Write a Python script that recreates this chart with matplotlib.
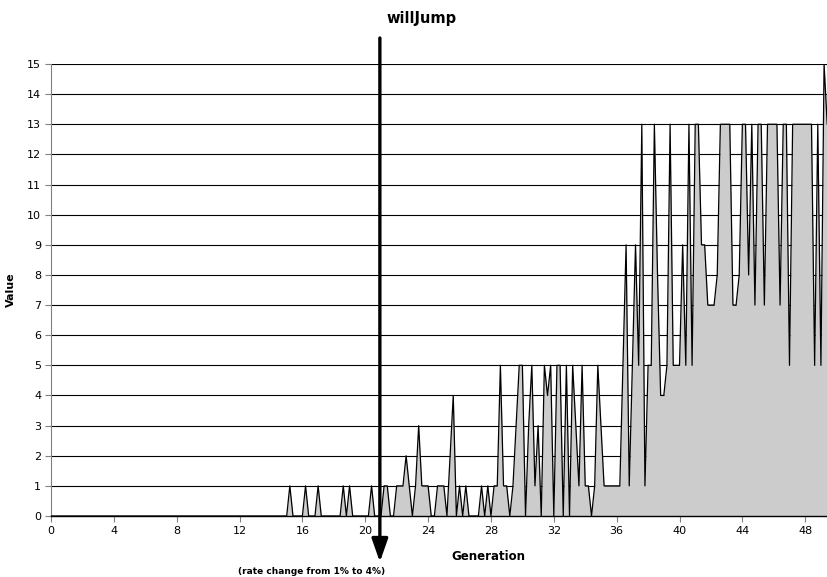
import numpy as np
import matplotlib
matplotlib.use('Agg')
import matplotlib.pyplot as plt

# willJump value per sample, one sample every 0.2 generation
will_jump = [
    0, 0, 0, 0, 0, 0, 0, 0, 0, 0, 0, 0, 0, 0, 0, 0, 0, 0, 0, 0,
    0, 0, 0, 0, 0, 0, 0, 0, 0, 0, 0, 0, 0, 0, 0, 0, 0, 0, 0, 0,
    0, 0, 0, 0, 0, 0, 0, 0, 0, 0, 0, 0, 0, 0, 0, 0, 0, 0, 0, 0,
    0, 0, 0, 0, 0, 0, 0, 0, 0, 0, 0, 0, 0, 0, 0, 0, 1, 0, 0, 0,
    0, 1, 0, 0, 0, 1, 0, 0, 0, 0, 0, 0, 0, 1, 0, 1, 0, 0, 0, 0,
    0, 0, 1, 0, 0, 0, 1, 1, 0, 0, 1, 1, 1, 2, 1, 0, 1, 3, 1, 1,
    1, 0, 0, 1, 1, 1, 0, 2, 4, 0, 1, 0, 1, 0, 0, 0, 0, 1, 0, 1,
    0, 1, 1, 5, 1, 1, 0, 1, 3, 5, 5, 0, 3, 5, 1, 3, 0, 5, 4, 5,
    0, 5, 5, 0, 5, 0, 5, 3, 1, 5, 1, 1, 0, 1, 5, 3, 1, 1, 1, 1,
    1, 1, 5, 9, 1, 5, 9, 5, 13, 1, 5, 5, 13, 8, 4, 4, 5, 13, 5, 5,
    5, 9, 5, 13, 5, 13, 13, 9, 9, 7, 7, 7, 8, 13, 13, 13, 13, 7, 7, 8,
    13, 13, 8, 13, 7, 13, 13, 7, 13, 13, 13, 13, 7, 13, 13, 5, 13, 13, 13, 13,
    13, 13, 13, 5, 13, 5, 15, 13,
]
gen_step = 0.2
x_ticks = list(range(0, 49, 4))
y_ticks = list(range(0, 16))
rate_change_gen = 20.93

generations = np.arange(len(will_jump)) * gen_step

W, H = 828, 577
fig = plt.figure(figsize=(W / 100, H / 100), dpi=100)
ax = fig.add_axes([51 / W, 61 / H, 777 / W, 452 / H])

ax.fill_between(generations, will_jump, 0, color='#cccccc', lw=0, zorder=2)
ax.plot(generations, will_jump, color='black', lw=0.9, zorder=3)

ax.set_xlim(0, 49.45)
ax.set_ylim(0, 15)
ax.set_xticks(x_ticks)
ax.set_yticks(y_ticks)
ax.yaxis.grid(True, color='black', lw=0.8)
ax.set_axisbelow(True)

for side in ['top', 'right']:
    ax.spines[side].set_visible(False)
ax.spines['left'].set_color('#808080')
ax.spines['left'].set_linewidth(0.8)
ax.spines['bottom'].set_color('black')
ax.spines['bottom'].set_linewidth(1.0)
ax.spines['bottom'].set_zorder(4)
ax.tick_params(direction='out', length=4, width=0.8, color='#808080', labelsize=8, pad=3)

ax.set_ylabel('Value', fontsize=8, fontweight='bold', labelpad=8)
fig.text(488 / W, 1 - 557 / H, 'Generation', fontsize=8.5, fontweight='bold', ha='center', va='center')
fig.text(422 / W, 1 - 18 / H, 'willJump', fontsize=10.5, fontweight='bold', ha='center', va='center')

# arrow marking the mutation rate change
ax.annotate('', xy=(rate_change_gen, 1 - 562 / H), xytext=(rate_change_gen, 1 - 38 / H),
            xycoords=('data', 'figure fraction'), textcoords=('data', 'figure fraction'),
            arrowprops=dict(arrowstyle='-|>,head_width=0.35,head_length=1.0', lw=2.4,
                            color='black', mutation_scale=14, shrinkA=0, shrinkB=0),
            annotation_clip=False, zorder=6)
fig.text(312 / W, 1 - 571 / H, '(rate change from 1% to 4%)', fontsize=6.5, fontweight='bold',
         ha='center', va='center')

fig.savefig('out.png', dpi=100)
